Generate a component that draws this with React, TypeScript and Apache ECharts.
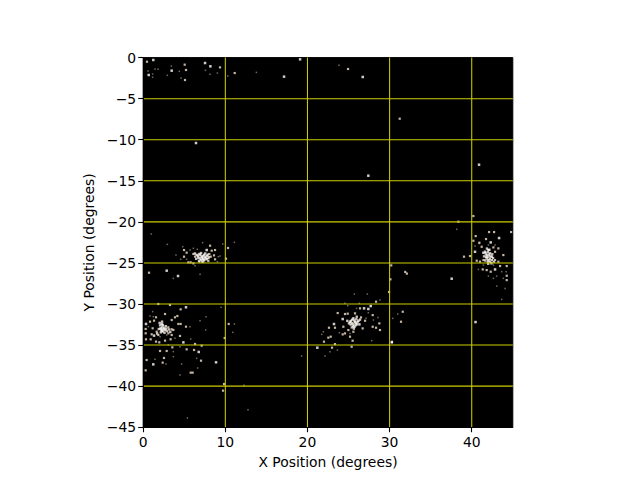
import React, { useEffect, useRef } from "react";
import * as echarts from "echarts";

const xTicks = [0, 10, 20, 30, 40];
const xGridValues = [10, 20, 30, 40];
const yGridValues = [-5, -10, -15, -20, -25, -30, -35, -40];

const whitePoints: number[][] = [
  [1.23, -0.29], [7.53, -0.66], [8.18, -1.06], [3.47, -1.59], [0.67, -2.12], [17.15, -2.32], [19.1, -0.21], [6.43, -10.4],
  [26.73, -2.36], [27.41, -14.38], [40.89, -13.04],
  [6.51, -24.03], [6.84, -23.91], [7.12, -24.24], [7.41, -24.03], [7.73, -24.16], [6.72, -24.36], [7.04, -24.64], [7.32, -24.56], [7.61, -24.44], [7.73, -23.43], [2.86, -25.94], [4.24, -26.59],
  [0.34, -32.43], [1.32, -33.85], [2.25, -32.43], [2.33, -32.76], [2.45, -33.08], [2.25, -33.25], [2.66, -33.16], [2.13, -32.96], [4.89, -34.67], [5.21, -30.4], [1.23, -37.35], [8.87, -37.1], [6.76, -35.84],
  [25.59, -31.75], [25.79, -32.16], [25.38, -32.36], [26, -32.48], [25.18, -32.16], [25.71, -32.77], [26.2, -32.04], [26.89, -30.53], [27.41, -30.61], [27.7, -30.25], [21.2, -35.32], [30.26, -34.67], [24.29, -31.83], [26.32, -32.48], [23.23, -32.44],
  [41.62, -23.64], [42.03, -23.43], [42.23, -23.84], [41.82, -24.04], [42.43, -24.24], [42.03, -24.65], [42.23, -24.85], [41.82, -24.45], [42.31, -22.5], [43.33, -21.97], [40.4, -23.64], [37.56, -26.92], [42.84, -25.79], [41.42, -23.76], [40.46, -32.2],
];

const corePoints: number[][] = [
  [6.3, -23.85], [6.65, -24.15], [6.95, -24.05], [7.25, -24.2], [7.5, -24.3], [7.85, -24.0], [6.9, -24.45], [7.2, -24.45], [7.45, -24.65], [7.75, -24.55], [8.0, -24.3], [6.45, -24.5], [7.05, -23.8], [7.55, -23.85], [6.8, -24.75], [7.2, -24.85],
  [2.05, -32.6], [2.4, -32.55], [2.55, -32.9], [2.2, -33.1], [2.4, -33.35], [2.6, -33.5], [2.15, -33.45], [2.8, -33.0], [2.9, -33.3], [3.15, -33.1], [1.9, -33.05], [2.0, -32.3], [2.3, -32.15], [2.75, -32.7], [3.3, -33.4], [1.7, -33.6],
  [25.45, -31.9], [25.7, -32.0], [25.3, -32.05], [25.9, -32.3], [25.6, -32.4], [25.25, -32.5], [25.95, -31.85], [25.55, -32.65], [25.85, -32.6], [26.1, -32.2], [26.4, -31.9], [25.05, -32.35], [24.85, -32.05], [25.4, -32.85], [26.0, -31.55], [25.65, -33.0],
  [41.7, -23.85], [41.95, -23.7], [42.1, -24.0], [41.95, -24.25], [42.25, -24.2], [42.2, -24.5], [41.95, -24.85], [42.45, -24.65], [41.75, -24.25], [42.0, -25.1], [42.4, -25.05], [41.65, -24.7], [42.5, -23.95], [42.6, -24.4], [42.15, -23.4], [41.5, -24.2], [42.7, -24.85], [41.85, -23.25],
];

const creamPoints: number[][] = [
  [0.46, -0.5], [5.05, -0.86], [9.35, -1.19], [5.21, -1.51], [5.09, -2.73], [11.14, -1.88], [24.94, -1.39], [31.23, -7.44],
  [10.33, -23.18], [8.14, -22.9], [4.97, -23.43], [8.34, -23.51], [8.75, -23.43], [5.29, -23.75], [4.97, -24.24], [6.11, -23.91], [8.05, -23.91], [6.31, -24.24], [7.93, -24.44], [8.22, -24.24], [8.62, -24.08], [8.75, -24.56], [10.08, -24.48], [5.5, -24.93], [5.78, -24.93], [6.84, -24.85], [7.32, -24.85], [7.93, -24.77], [6.11, -25.05], [0.71, -26.19],
  [1.84, -30.0], [3.26, -30.12], [4.56, -30.65], [2.66, -31.22], [1.56, -31.62], [0.83, -32.15], [1.32, -32.03], [4.16, -31.46], [3.87, -31.62], [3.47, -31.95], [4.28, -32.43], [4.56, -32.43], [5.21, -32.76], [3.06, -32.84], [3.47, -33.08], [3.67, -33.16], [1.15, -32.96], [0.3, -33.04], [0.3, -33.57], [1.03, -33.69], [1.64, -33.37], [1.84, -33.77], [3.06, -33.57], [3.47, -33.77], [4.48, -33.89], [0.34, -34.3], [0.91, -34.3], [1.56, -34.58], [1.96, -34.67], [2.66, -34.46], [3.34, -34.3], [6.31, -34.87], [7.12, -35.07], [3.55, -35.28], [2.05, -35.72], [2.86, -35.72], [5.29, -35.52], [6.19, -35.6], [7.04, -36.9], [2.53, -36.57], [0.42, -36.82], [0.3, -38.08], [5.78, -38.36], [6.02, -38.36], [9.84, -39.74], [9.72, -40.55], [10.41, -32.43], [9.92, -34.14], [2.37, -37.14],
  [29.93, -28.54], [28.35, -29.72], [26.4, -30.53], [23.68, -31.1], [24.9, -31.18], [25.79, -31.14], [24.57, -31.22], [26.52, -31.63], [27.01, -32.04], [27.94, -31.35], [28.75, -32.36], [28.83, -33.17], [28.35, -32.89], [27.94, -32.77], [26.72, -32.97], [24.98, -33.17], [24.37, -32.77], [24.29, -33.7], [24.57, -33.58], [25.18, -33.98], [25.59, -33.38], [25.5, -34.47], [23.35, -32.89], [22.62, -32.89], [22.83, -33.98], [22.54, -34.1], [22.01, -34.59], [23.35, -34.88], [22.99, -35.32], [25.38, -35.2], [31.6, -30.94], [31.39, -32.16],
  [40.2, -19.29], [38.37, -19.98], [44.79, -21.24], [42.11, -21.24], [42.72, -21.24], [40.48, -21.73], [41.74, -22.09], [40.93, -22.54], [40.2, -22.3], [41.21, -23.03], [42.64, -23.11], [43.24, -23.23], [42.84, -23.64], [43.85, -24.04], [41.42, -24.65], [42.84, -24.65], [43.24, -24.85], [40.61, -24.73], [41.01, -24.85], [39.79, -24.16], [39.06, -24.24], [41.34, -25.79], [41.82, -25.87], [43.45, -25.38], [44.26, -25.38], [44.26, -26.56], [44.26, -27.09], [42.31, -26.07],
  [31.9, -26.1], [32.1, -26.3], [30.2, -25.3], [30.1, -27.0], [30.3, -34.6],
];

const dimPoints: number[][] = [
  [3.43, -1.02], [0.6, -1.63], [1.44, -1.39], [1.8, -1.43], [1.15, -2.0], [1.15, -2.4], [2.94, -2.16], [4.4, -1.67], [4.6, -2.48], [7.57, -1.55], [8.14, -2.04], [9.03, -1.88], [10.29, -2.24], [13.78, -1.8], [23.84, -0.94],
  [0.99, -21.48], [2.94, -22.74], [11.1, -22.49], [9.68, -22.7], [7.24, -22.53], [6.11, -23.22], [6.59, -23.34], [3.99, -24.03], [9.15, -24.24], [9.35, -24.16], [9.03, -24.85], [6.31, -25.33], [6.92, -26.39], [3.67, -26.88], [4.56, -24.56], [5.29, -24.56], [5.7, -23.43], [4.81, -23.02],
  [1.15, -30.93], [7.65, -31.54], [6.92, -32.03], [7.61, -33.16], [5.7, -32.76], [5.78, -34.26], [4.48, -38.64], [6.63, -37.79], [6.51, -36.62], [3.67, -36.41], [4.68, -37.31], [1.44, -36.74], [2.78, -37.31], [11.1, -32.43], [10.9, -33.45], [12.76, -42.87], [5.38, -43.88], [12.28, -39.9], [9.48, -30.4], [0.83, -31.46], [2.86, -33.77], [1.23, -31.54], [0.63, -32.76], [2.05, -33.98], [3.87, -34.18], [3.06, -34.99], [3.67, -35.8], [4.48, -35.2],
  [24.57, -29.92], [24.9, -30.21], [25.71, -28.79], [27.29, -28.79], [26.32, -29.92], [27.41, -31.06], [28.59, -31.63], [28.02, -31.95], [27.13, -31.75], [23.88, -33.5], [21.93, -33.38], [21.73, -33.7], [22.14, -36.34], [19.29, -36.34], [22.74, -35.81], [23.64, -35.61], [25.18, -33.58], [30.38, -31.75], [30.99, -31.22], [28.83, -29.52], [27.82, -34.47], [25.99, -30.53],
  [38.17, -20.91], [40.81, -25.79], [42.03, -26.6], [42.64, -26.88], [43.04, -26.6], [43.65, -26.07], [44.18, -26.07], [43.85, -26.88], [44.06, -28.1], [43.65, -29.44], [40.89, -22.62], [42.03, -22.82], [42.84, -22.82], [41.42, -25.26], [42.64, -25.26], [43.04, -27.82], [40.4, -22.94],
];

const FONT = "DejaVu Sans";
const GRID_YELLOW = "#cdcd00";
const X_MAX = 45;
const Y_MIN = -45;
const minus = (v: number) => String(v).replace("-", "\u2212");

function spots(data: number[][], color: string, size: number) {
  return {
    type: "scatter",
    data,
    symbol: "rect",
    symbolSize: size,
    itemStyle: { color },
    silent: true,
  };
}

function gridRule(data: number[][]) {
  return {
    type: "line",
    data,
    symbol: "none",
    silent: true,
    z: 6,
    lineStyle: { color: GRID_YELLOW, width: 1.05 },
  };
}

export default function App() {
  const ref = useRef<HTMLDivElement>(null);
  useEffect(() => {
    const chart = echarts.init(ref.current!, null, { renderer: "svg" });
    const axisBase = {
      type: "value",
      nameLocation: "middle",
      nameTextStyle: { fontFamily: FONT, fontSize: 13.9, color: "#000" },
      axisLine: { show: true, onZero: false, lineStyle: { color: "#000", width: 1.1 } },
      axisTick: { show: true, length: 5, lineStyle: { color: "#000", width: 1.1 } },
      axisLabel: { fontFamily: FONT, fontSize: 13.9, color: "#000", margin: 7 },
      splitLine: { show: false },
      z: 7,
    };
    chart.setOption({
      animation: false,
      backgroundColor: "#fff",
      grid: {
        left: 143.2, top: 57.6, width: 369.6, height: 369.6,
        show: true, backgroundColor: "#000", borderColor: "#000", borderWidth: 1,
      },
      xAxis: {
        ...axisBase,
        name: "X Position (degrees)",
        nameGap: 28,
        min: 0, max: X_MAX, interval: 10,
        axisTick: { ...axisBase.axisTick, customValues: xTicks },
        axisLabel: { ...axisBase.axisLabel, margin: 8, customValues: xTicks, formatter: (v: number) => minus(v) },
      },
      yAxis: {
        ...axisBase,
        name: "Y Position (degrees)",
        nameGap: 44,
        min: Y_MIN, max: 0, interval: 5,
        axisLabel: { ...axisBase.axisLabel, formatter: (v: number) => minus(v) },
      },
      series: [
        spots(dimPoints, "#8f8374", 1.5),
        spots(creamPoints, "#f5e2cb", 2.2),
        spots(corePoints, "#fbf3e8", 2.4),
        spots(whitePoints, "#ffffff", 2.5),
        ...xGridValues.map((x) => gridRule([[x, Y_MIN], [x, 0]])),
        ...yGridValues.map((y) => gridRule([[0, y], [X_MAX, y]])),
      ],
    });
    return () => chart.dispose();
  }, []);
  return <div ref={ref} style={{ position: "fixed", left: 0, top: 0, width: 640, height: 480 }} />;
}
